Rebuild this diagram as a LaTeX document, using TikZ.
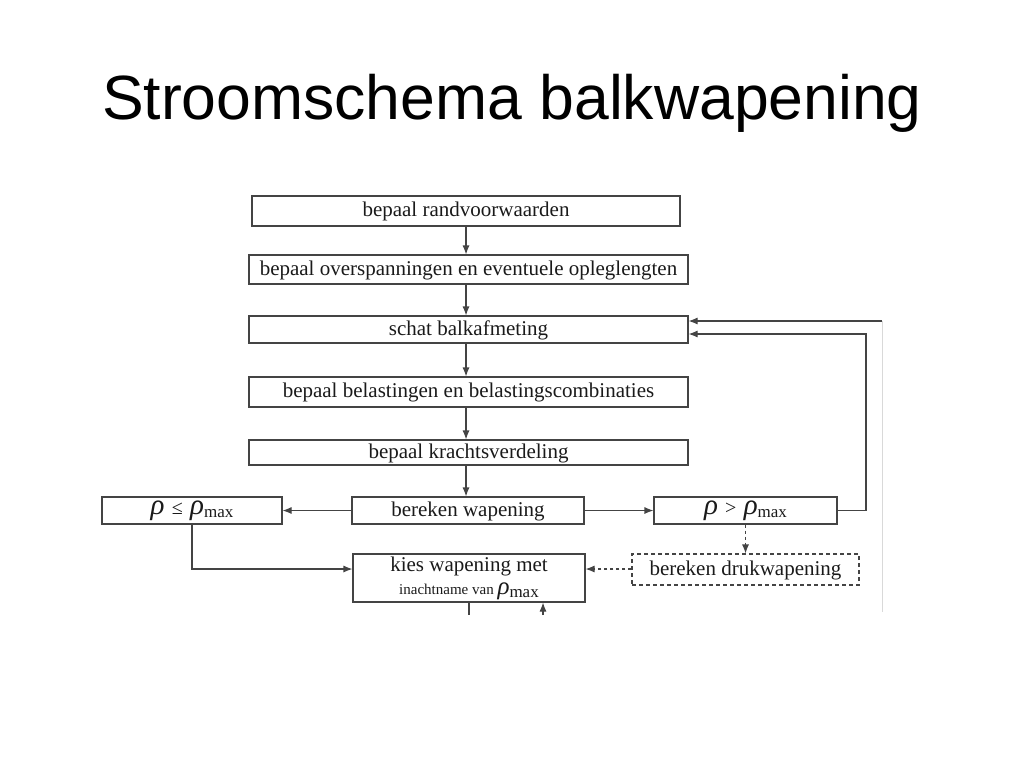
\documentclass[tikz,border=0pt]{standalone}
\usepackage{fontspec}
\setmainfont{Liberation Serif}
\newfontfamily\titlefont{Liberation Sans}
\usetikzlibrary{arrows.meta}
\definecolor{ln}{HTML}{444444}
\definecolor{tx}{HTML}{1A1A1A}
\newcommand{\rhomax}{\textit{ρ}{\fontsize{17}{17}\selectfont\raisebox{-3pt}{max}}}
\begin{document}
\begin{tikzpicture}[x=1pt,y=-1pt,
  box/.style={draw=ln, line width=1.1pt, inner sep=0pt, text=tx,
    font=\fontsize{21}{22}\selectfont, align=center},
  sbox/.style={box, text height=14pt, text depth=2.5pt},
  dbox/.style={sbox, dashed, dash pattern=on 4pt off 3pt},
  arr/.style={draw=ln, line width=1.1pt, -{Latex[length=9pt,width=7pt]}},
  darr/.style={arr, dash pattern=on 3.5pt off 2.5pt},
  conn/.style={draw=ln, line width=1.1pt},
  rbox/.style={box, font=\fontsize{29}{29}\selectfont}]
\useasboundingbox (0,0) rectangle (1024,768);
\node[font=\titlefont\fontsize{62.5}{64}\selectfont, anchor=base] (title) at (512,119) {Stroomschema balkwapening};

\node[sbox, minimum width=428pt, minimum height=30pt] (b1) at (466,211) {bepaal randvoorwaarden};
\node[sbox, minimum width=439pt, minimum height=29pt] (b2) at (468.5,269.5) {bepaal overspanningen en eventuele opleglengten};
\node[sbox, minimum width=439pt, minimum height=27pt] (b3) at (468.5,329.5) {schat balkafmeting};
\node[sbox, minimum width=439pt, minimum height=30pt] (b4) at (468.5,392) {bepaal belastingen en belastingscombinaties};
\node[sbox, minimum width=439pt, minimum height=25pt] (b5) at (468.5,452.5) {bepaal krachtsverdeling};
\node[sbox, minimum width=232pt, minimum height=27pt] (b6) at (468,510.5) {bereken wapening};
\node[rbox, minimum width=180pt, minimum height=27pt] (bl) at (192,510.5) {\textit{ρ} {\fontsize{20}{20}\selectfont ≤} \rhomax};
\node[rbox, minimum width=183pt, minimum height=27pt] (br) at (745.5,510.5) {\textit{ρ} {\fontsize{20}{20}\selectfont >} \rhomax};
\node[dbox, minimum width=227pt, minimum height=31pt] (bd) at (745.5,569.5) {bereken drukwapening};
\node[box, minimum width=232pt, minimum height=48pt] (bk) at (469,578) {kies wapening met\\[1pt]{\fontsize{15}{16}\selectfont inachtname van {\fontsize{25}{24}\selectfont\rhomax}}};

\coordinate (rx) at (866,334);
\coordinate (tx) at (882,321);
\coordinate (bot1) at (469,615);
\coordinate (bot2) at (543,615);

\draw[arr] (b1.south) -- (b1.south |- b2.north);
\draw[arr] (b1.south |- b2.south) -- (b1.south |- b3.north);
\draw[arr] (b1.south |- b3.south) -- (b1.south |- b4.north);
\draw[arr] (b1.south |- b4.south) -- (b1.south |- b5.north);
\draw[arr] (b1.south |- b5.south) -- (b1.south |- b6.north);
\draw[arr] (b6.west) -- (bl.east);
\draw[arr] (b6.east) -- (br.east -| br.west);
\draw[arr] (br.east) -- (br.east -| rx) -- (rx) -- ([yshift=-4.5pt]b3.east);
\draw[arr] (tx) -- ([yshift=8.5pt]b3.east);
\draw[draw=gray!30, line width=0.8pt] (tx) -- (882,612);
\draw[arr] (bl.south) |- ([yshift=9pt]bk.west);
\draw[darr] (br.south) -- (bd.north);
\draw[darr] ([yshift=0.5pt]bd.west) -- ([yshift=9pt]bk.east);
\draw[conn] (bk.south) -- (bot1);
\draw[arr] (bot2) -- (bot2 |- bk.south);
\end{tikzpicture}
\end{document}
